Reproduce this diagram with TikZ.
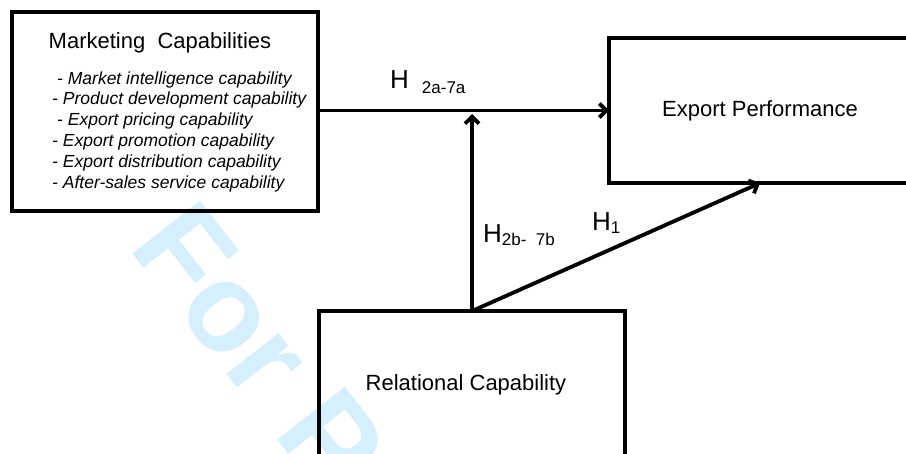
\documentclass[tikz,border=0pt]{standalone}
\usepackage{fontspec}
\setmainfont{Liberation Sans}
\usetikzlibrary{arrows.meta}
\definecolor{markcyan}{RGB}{214,239,252}
\newcommand{\subsize}{\fontsize{17}{17}\selectfont}

\begin{document}
\begin{tikzpicture}[x=1pt,y=-1pt,
  box/.style={rectangle,draw,line width=3.7pt,inner sep=0pt,outer sep=0pt,font=\fontsize{22}{26}\selectfont},
  link/.style={->,line width=3.8pt},
  hlab/.style={anchor=base west,inner sep=0pt,font=\fontsize{26}{26}\selectfont},
  >={Straight Barb[length=7pt,width=14pt]}]
\useasboundingbox (0,0) rectangle (906,453);
\clip (0,0) rectangle (906,453);

% watermark
\node (WM)[anchor=base west,rotate=-52,inner sep=0pt,text=markcyan,font=\fontsize{125}{125}\selectfont\bfseries] at (127,247) {For Peer Review};

\node (MC)[box,anchor=north west,minimum width=306pt,minimum height=199pt] at (12,12) {};
\node (EP)[box,anchor=north west,minimum width=302pt,minimum height=145pt] at (609,38) {Export Performance};
\node (RC)[box,anchor=north west,minimum width=306pt,minimum height=148pt] at (319,311) {Relational Capability\hspace*{12pt}};

\node (MCtitle)[anchor=base,inner sep=0pt,font=\fontsize{22}{26}\selectfont] at (160,48) {Marketing\ \ Capabilities};
% base of the list = baseline of its last line
\node (MClist)[anchor=base west,inner sep=0pt,align=left,font=\itshape\fontsize{17.5}{20.8}\selectfont] at (52,188)
  {\hspace*{5pt}- Market intelligence capability\\
   - Product development capability\\
   \hspace*{5pt}- Export pricing capability\\
   - Export promotion capability\\
   - Export distribution capability\\
   - After-sales service capability};

\coordinate (Hjoin) at (472,114);
\draw[link] (MC.east |- EP.west) -- (EP.west);
\draw[link] (RC.north) -- (Hjoin);
\draw[link] (RC.north) -- (EP.south);

\node (H2a)[hlab] at (390,88) {H\hspace{13pt}\raisebox{-5pt}{\subsize 2a-7a}};
\node (H2b)[hlab] at (483,242) {H\raisebox{-3pt}{\subsize 2b-\ \ 7b}};
\node (H1)[hlab] at (592,230) {H\raisebox{-3pt}{\subsize 1}};
\end{tikzpicture}
\end{document}
